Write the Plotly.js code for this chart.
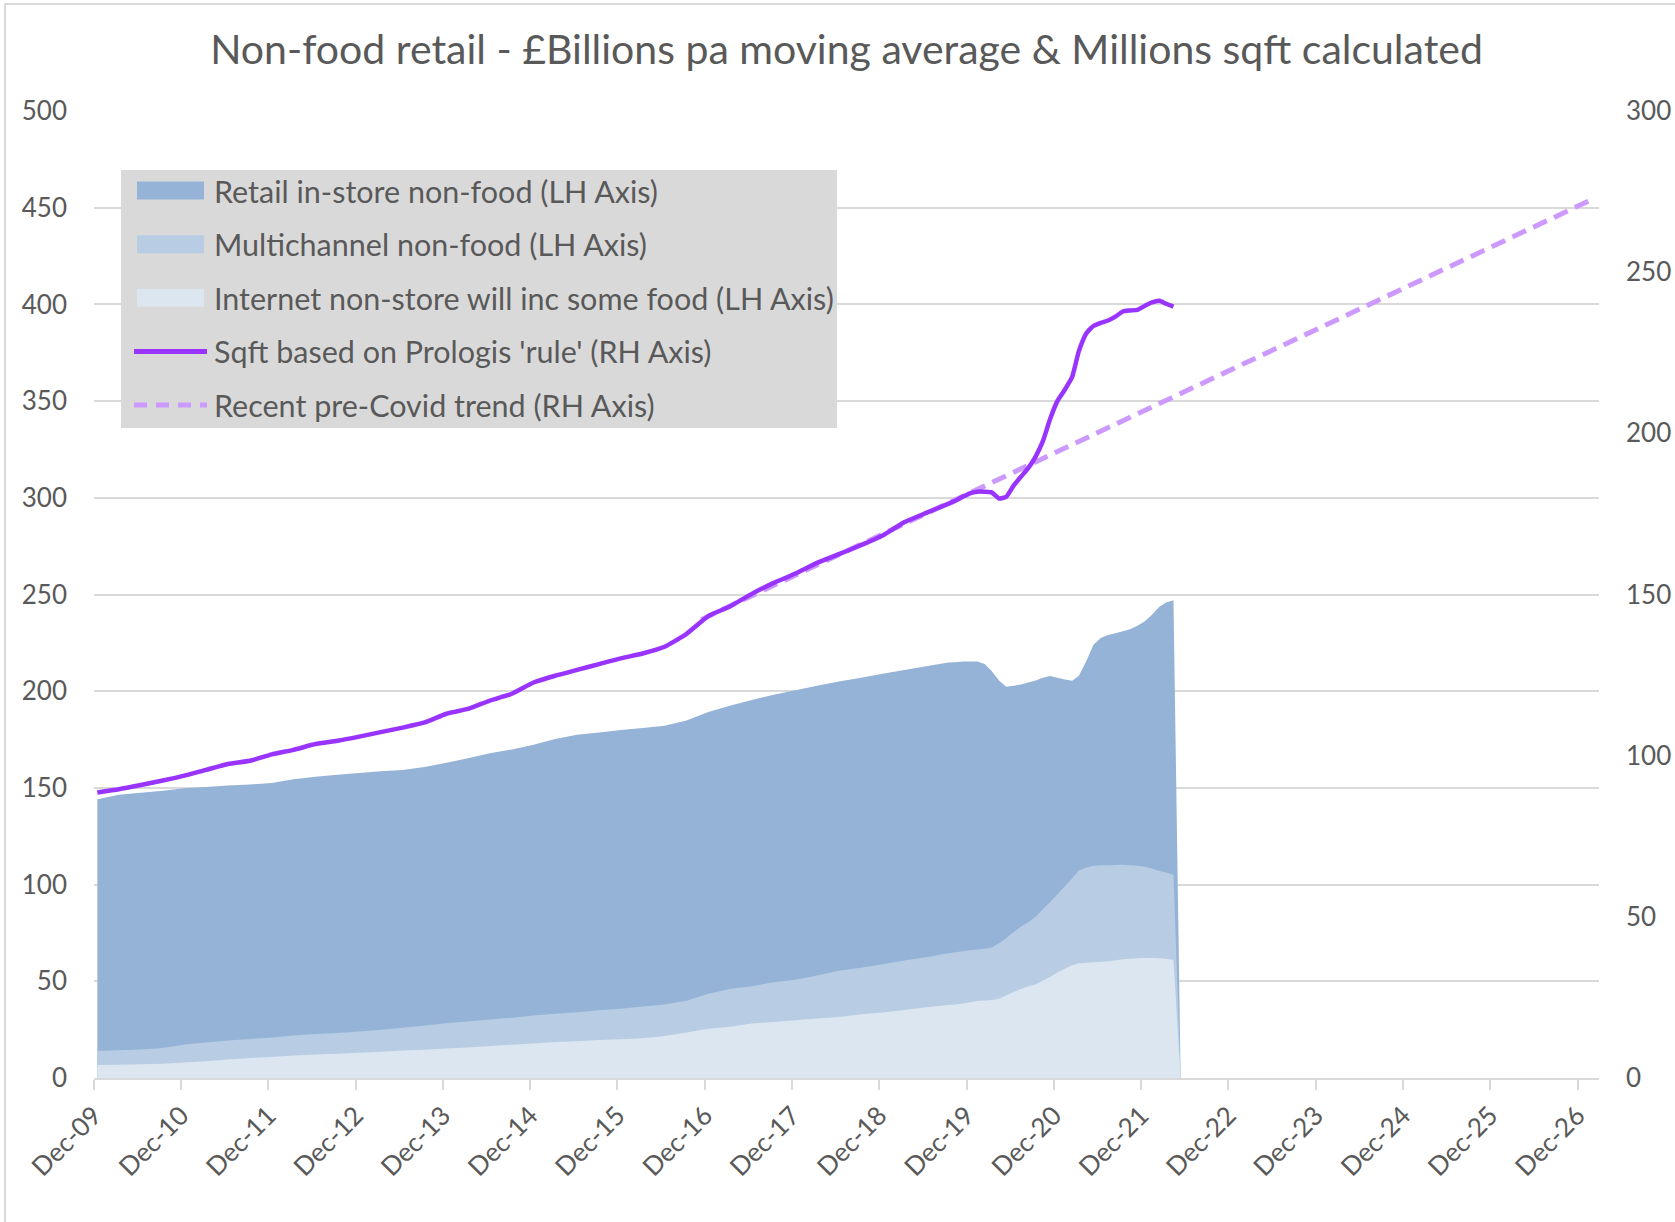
<!DOCTYPE html>
<html>
<head>
<meta charset="utf-8">
<script src="https://cdn.plot.ly/plotly-3.0.1.min.js"></script>
<style>
  body { margin: 0; background: #ffffff; }
  #chart { width: 1675px; height: 1222px; }
  #frame { position: absolute; left: 4px; top: 3px; width: 1690px; height: 1240px;
           border: 2px solid #d9d9d9; pointer-events: none; }
</style>
</head>
<body>
<div id="chart"></div>
<div id="frame"></div>
<script>
// Dates: quarterly to Sep-19, then monthly (mid-month points)
const dates = [
  '2009-12-15',
  '2010-03-15','2010-06-15','2010-09-15','2010-12-15',
  '2011-03-15','2011-06-15','2011-09-15','2011-12-15',
  '2012-03-15','2012-06-15','2012-09-15','2012-12-15',
  '2013-03-15','2013-06-15','2013-09-15','2013-12-15',
  '2014-03-15','2014-06-15','2014-09-15','2014-12-15',
  '2015-03-15','2015-06-15','2015-09-15','2015-12-15',
  '2016-03-15','2016-06-15','2016-09-15','2016-12-15',
  '2017-03-15','2017-06-15','2017-09-15','2017-12-15',
  '2018-03-15','2018-06-15','2018-09-15','2018-12-15',
  '2019-03-15','2019-06-15','2019-09-15',
  '2019-10-15','2019-11-15','2019-12-15',
  '2020-01-15','2020-02-15','2020-03-15','2020-04-15','2020-05-15','2020-06-15',
  '2020-07-15','2020-08-15','2020-09-15','2020-10-15','2020-11-15','2020-12-15',
  '2021-01-15','2021-02-15','2021-03-15','2021-04-15','2021-05-15','2021-06-15',
  '2021-07-15','2021-08-15','2021-09-15','2021-10-15','2021-11-15','2021-12-15',
  '2022-01-15','2022-02-15','2022-03-15','2022-04-15','2022-05-15'
];

// Upper edge of each shaded layer, £bn (LH axis)
const retailInStoreTop = [
  144.1,
  146.5,147.5,148.5,149.8,
  150.5,151.2,151.8,152.5,
  154.5,155.8,156.8,157.7,
  158.6,159.2,160.8,163.0,
  165.3,167.9,169.9,172.3,
  175.3,177.5,178.7,180.0,
  181.0,182.2,184.9,189.3,
  192.5,195.4,198.2,200.5,
  202.8,205.0,207.0,209.0,
  210.9,212.9,214.8,
  215.0,215.3,215.3,
  215.4,214.0,210.5,205.5,202.3,202.8,
  203.5,204.5,205.5,207.0,207.9,207.0,
  206.0,205.4,208.0,215.5,224.0,227.5,
  229.0,230.0,231.0,232.0,233.8,236.0,
  239.5,243.7,245.8,247.0,0
];

const multichannelTop = [
  14.0,
  14.3,14.7,15.5,17.3,
  18.3,19.4,20.2,21.0,
  22.0,22.7,23.3,24.0,
  25.0,26.0,27.2,28.3,
  29.2,30.2,31.2,32.3,
  33.2,34.0,35.0,35.8,
  37.0,38.0,40.0,43.6,
  46.0,47.5,49.5,50.8,
  53.0,55.5,57.0,58.8,
  60.8,62.5,64.5,
  65.0,65.5,66.0,
  66.5,66.8,67.5,69.7,72.2,75.5,
  78.2,80.5,83.4,87.2,91.0,94.9,
  99.1,103.3,107.3,108.9,109.8,110.0,
  110.0,110.1,110.3,110.0,109.7,109.2,
  108.3,107.0,106.2,105.0,0
];

const internetTop = [
  6.7,
  6.9,7.1,7.4,8.0,
  8.6,9.6,10.3,10.9,
  11.6,12.2,12.6,13.1,
  13.6,14.2,14.6,15.2,
  15.8,16.6,17.2,17.8,
  18.6,19.0,19.6,20.1,
  20.6,21.7,23.5,25.5,
  26.5,28.2,29.0,29.8,
  30.8,31.6,32.9,33.9,
  35.2,36.6,37.8,
  38.0,38.5,39.2,
  39.8,40.1,40.3,41.0,42.8,44.5,
  46.0,47.3,48.5,50.3,52.3,54.5,
  56.5,58.3,59.3,59.6,59.9,60.1,
  60.4,60.9,61.4,61.7,61.9,62.0,
  62.0,61.9,61.7,61.0,0
];

// Millions sqft (RH axis)
const sqft = [
  88.6,
  89.6,90.9,92.3,93.8,
  95.6,97.4,98.4,100.4,
  101.8,103.6,104.6,105.9,
  107.3,108.7,110.3,113.0,
  114.5,117.1,119.2,122.7,
  124.8,126.6,128.4,130.2,
  131.7,133.8,137.8,143.3,
  146.3,150.2,153.6,156.5,
  159.8,162.5,165.3,168.3,
  172.4,175.3,178.1,
  179.1,180.3,181.4,
  181.9,181.9,181.7,179.8,180.3,183.8,
  186.5,189.2,192.8,197.5,204.5,210.0,
  213.5,217.5,225.5,231.0,233.3,234.3,
  235.0,236.2,237.8,238.1,238.3,239.5,
  240.6,241.1,240.2,239.3,null
];

const trendDates = ['2016-11-15', '2027-01-15'];
const trendValues = [142.2, 272.0];

const tickDates = ['2009-12-01','2010-12-01','2011-12-01','2012-12-01','2013-12-01','2014-12-01',
  '2015-12-01','2016-12-01','2017-12-01','2018-12-01','2019-12-01','2020-12-01','2021-12-01',
  '2022-12-01','2023-12-01','2024-12-01','2025-12-01','2026-12-01'];
const tickLabels = ['Dec-09','Dec-10','Dec-11','Dec-12','Dec-13','Dec-14','Dec-15','Dec-16',
  'Dec-17','Dec-18','Dec-19','Dec-20','Dec-21','Dec-22','Dec-23','Dec-24','Dec-25','Dec-26'];

const seriesNames = [
  'Retail in-store non-food (LH Axis)',
  'Multichannel non-food (LH Axis)',
  'Internet non-store will inc some food (LH Axis)',
  "Sqft based on Prologis 'rule' (RH Axis)",
  'Recent pre-Covid trend (RH Axis)'
];

const FONT = 'Lato, "Open Sans", sans-serif';
const TXT = '#595959';
const COLORS = ['#95B3D7', '#B8CCE4', '#DCE6F1', '#9933FF', '#CC99FF'];

const traces = [
  { x: dates, y: retailInStoreTop, name: seriesNames[0], type: 'scatter',
    mode: 'none', fill: 'tozeroy', fillcolor: COLORS[0] },
  { x: dates, y: multichannelTop, name: seriesNames[1], type: 'scatter',
    mode: 'none', fill: 'tozeroy', fillcolor: COLORS[1] },
  { x: dates, y: internetTop, name: seriesNames[2], type: 'scatter',
    mode: 'none', fill: 'tozeroy', fillcolor: COLORS[2] },
  { x: trendDates, y: trendValues, name: seriesNames[4], type: 'scatter',
    mode: 'lines', yaxis: 'y2', line: { color: COLORS[4], width: 5, dash: '15px,8px' } },
  { x: dates, y: sqft, name: seriesNames[3], type: 'scatter',
    mode: 'lines', yaxis: 'y2', line: { color: COLORS[3], width: 4.5, shape: 'spline', smoothing: 0.5 } }
];

// Plot area in pixels (for placing the legend box)
const PL = 94, PR = 1599, PT = 111, PB = 1078;
const px = v => (v - PL) / (PR - PL);
const py = v => (PB - v) / (PB - PT);

const shapes = [
  { type: 'rect', xref: 'paper', yref: 'paper', x0: px(121), x1: px(837), y0: py(428), y1: py(170),
    fillcolor: '#D9D9D9', line: { width: 0 }, layer: 'above' }
];
const annotations = [];
const rowY = [190.5, 244.2, 297.8, 351.4, 405.0];
for (let i = 0; i < 5; i++) {
  const cy = rowY[i];
  if (i < 3) {
    shapes.push({ type: 'rect', xref: 'paper', yref: 'paper', x0: px(137), x1: px(204),
      y0: py(cy + 9), y1: py(cy - 9), fillcolor: COLORS[i], line: { width: 0 }, layer: 'above' });
  } else {
    shapes.push({ type: 'line', xref: 'paper', yref: 'paper', x0: px(134), x1: px(207),
      y0: py(cy), y1: py(cy), layer: 'above',
      line: { color: COLORS[i], width: i === 3 ? 5 : 5, dash: i === 3 ? 'solid' : '13px,9px' } });
  }
  annotations.push({ xref: 'paper', yref: 'paper', x: px(212), y: py(cy), xanchor: 'left',
    yanchor: 'middle', showarrow: false, text: seriesNames[i],
    font: { family: FONT, size: 30.5, color: TXT } });
}

const layout = {
  width: 1675, height: 1222,
  paper_bgcolor: '#ffffff', plot_bgcolor: '#ffffff',
  margin: { l: 94, r: 76, t: 111, b: 144 },
  font: { family: FONT, color: TXT },
  title: { text: 'Non-food retail - £Billions pa moving average & Millions sqft calculated',
    font: { family: FONT, size: 41, color: TXT }, x: 0.5, xref: 'paper',
    y: 1 - 50 / 1222, yref: 'container', yanchor: 'middle' },
  showlegend: false,
  shapes: shapes,
  annotations: annotations,
  xaxis: {
    type: 'date', range: ['2009-12-01', '2027-03-01'],
    tickvals: tickDates, ticktext: tickLabels, tickangle: -45,
    tickfont: { family: FONT, size: 26, color: TXT },
    showgrid: false, zeroline: false,
    showline: true, linecolor: '#D9D9D9', linewidth: 2,
    ticks: 'outside', ticklen: 10, tickwidth: 2, tickcolor: '#D9D9D9'
  },
  yaxis: {
    range: [0, 500], tickvals: [0,50,100,150,200,250,300,350,400,450,500],
    tickfont: { family: FONT, size: 26, color: TXT },
    showgrid: true, gridcolor: '#D9D9D9', gridwidth: 2, zeroline: false,
    ticks: '', ticklabelstandoff: 26, fixedrange: true
  },
  yaxis2: {
    overlaying: 'y', side: 'right', range: [0, 300], tickvals: [0,50,100,150,200,250,300],
    tickfont: { family: FONT, size: 26, color: TXT },
    showgrid: false, zeroline: false, showline: false,
    ticks: '', ticklabelstandoff: 26
  }
};

Plotly.newPlot('chart', traces, layout, { displayModeBar: false, staticPlot: true });
</script>
</body>
</html>
